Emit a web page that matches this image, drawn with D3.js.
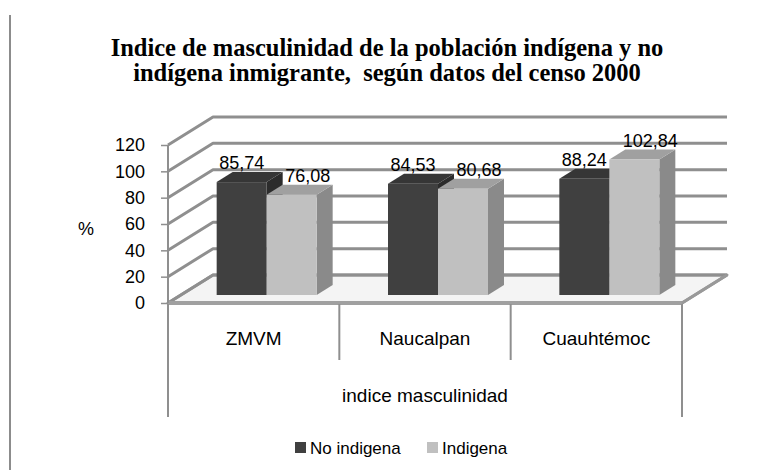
<!DOCTYPE html>
<html>
<head>
<meta charset="utf-8">
<script src="https://cdn.jsdelivr.net/npm/d3@7"></script>
<style>
  html, body { margin: 0; padding: 0; background: #fff; }
  svg { display: block; }
</style>
</head>
<body>
<svg id="chart" width="778" height="470"></svg>
<script>
// ---- data ----
const categories = ["ZMVM", "Naucalpan", "Cuauhtémoc"];
const seriesNames = ["No indigena", "Indigena"];
const noIndigena = [85.74, 84.53, 88.24];
const indigena = [76.08, 80.68, 102.84];
const yTicks = [0, 20, 40, 60, 80, 100, 120];
const titleLines = ["Indice de masculinidad de la población indígena y no",
                    "indígena inmigrante,  según datos del censo 2000"];
const groupTitle = "indice masculinidad";
const yAxisTitle = "%";

// ---- layout ----
const svg = d3.select("#chart");
const sans = "'Liberation Sans', Arial, sans-serif";
const serif = "'Liberation Serif', 'Times New Roman', serif";

const plotLeft = 168, plotRight = 682, floorY = 303, topY = 145;
const depth = { dx: 45, dy: -28 };       // floor depth
const barShift = { dx: 13, dy: -8 };     // bar front plane offset
const barDepth = { dx: 16, dy: -10 };    // bar thickness
const barW = 50;

const x = d3.scaleBand().domain(categories).range([plotLeft, plotRight]);
const y = d3.scaleLinear().domain([0, 120]).range([floorY, topY]);
const sub = d3.scaleBand().domain(seriesNames).range([0, barW * 2]);

const fmt = d3.formatLocale({ decimal: ",", thousands: ".", grouping: [3], currency: ["", ""] }).format(".2f");

const colors = {
  "No indigena": { front: "#404040", top: "#363636", side: "#2c2c2c" },
  "Indigena": { front: "#c0c0c0", top: "#a0a0a0", side: "#8a8a8a" }
};

// outer left border line
svg.append("line").attr("x1", 10).attr("x2", 10).attr("y1", 15).attr("y2", 470)
  .attr("stroke", "#8c8c8c").attr("stroke-width", 2);

// title
svg.append("text").attr("x", 387).attr("y", 56)
  .attr("text-anchor", "middle").attr("font-family", serif).attr("font-weight", "bold")
  .attr("font-size", 24.5).style("white-space", "pre")
  .selectAll("tspan").data(titleLines).join("tspan")
  .attr("x", 387).attr("dy", (d, i) => i === 0 ? 0 : 25).text(d => d);

// floor
const floorPts = [[plotLeft, floorY], [plotRight, floorY],
  [plotRight + depth.dx, floorY + depth.dy], [plotLeft + depth.dx, floorY + depth.dy]];
svg.append("polygon").attr("points", floorPts.map(p => p.join(",")).join(" "))
  .attr("fill", "#f4f4f4").attr("stroke", "#999").attr("stroke-width", 3)
  .attr("stroke-linejoin", "round");

// wall gridlines (left wall diagonal + back wall horizontal)
const grid = svg.append("g");
yTicks.forEach(v => {
  const yf = y(v);
  const pts = [[plotLeft, yf], [plotLeft + depth.dx, yf + depth.dy], [plotRight + depth.dx, yf + depth.dy]];
  grid.append("polyline").attr("points", pts.map(p => p.join(",")).join(" "))
    .attr("fill", "none").attr("stroke", "#8f8f8f").attr("stroke-width", 3)
    .attr("stroke-linejoin", "round");
});
// floor front edge again, on top
svg.append("line").attr("x1", plotLeft).attr("x2", plotRight).attr("y1", floorY).attr("y2", floorY)
  .attr("stroke", "#a0a0a0").attr("stroke-width", 4);
svg.append("line").attr("x1", plotRight).attr("x2", plotRight + depth.dx)
  .attr("y1", floorY).attr("y2", floorY + depth.dy)
  .attr("stroke", "#999").attr("stroke-width", 3);

// vertical axis line and ticks
svg.append("line").attr("x1", plotLeft).attr("x2", plotLeft).attr("y1", y(120)).attr("y2", floorY)
  .attr("stroke", "#8f8f8f").attr("stroke-width", 2);
const yAxis = d3.axisLeft(y).tickValues(yTicks).tickSize(7).tickPadding(16).tickFormat(d3.format("d"));
const yG = svg.append("g").attr("transform", `translate(${plotLeft},0)`).call(yAxis);
yG.select(".domain").remove();
yG.selectAll(".tick line").attr("stroke", "#8f8f8f").attr("stroke-width", 1.5);
yG.selectAll(".tick text").attr("font-family", sans).attr("font-size", 18).attr("fill", "#000");

svg.append("text").attr("x", 86).attr("y", 229).attr("dy", "0.35em")
  .attr("text-anchor", "middle").attr("font-family", sans).attr("font-size", 18).text(yAxisTitle);

// bars
const rows = categories.map((c, i) => ({ cat: c, vals: [noIndigena[i], indigena[i]] }));
const barsG = svg.append("g");
const base = floorY + barShift.dy;
rows.forEach(r => {
  const gx = x(r.cat) + (x.bandwidth() - barW * 2) / 2 + barShift.dx;
  seriesNames.forEach((s, k) => {
    const v = r.vals[k];
    const x0 = gx + sub(s), x1 = x0 + barW;
    const yt = y(v) + barShift.dy;
    const c = colors[s];
    const g = barsG.append("g");
    g.append("polygon").attr("points",
      [[x1, yt], [x1 + barDepth.dx, yt + barDepth.dy], [x1 + barDepth.dx, base + barDepth.dy], [x1, base]]
        .map(p => p.join(",")).join(" ")).attr("fill", c.side);
    g.append("polygon").attr("points",
      [[x0, yt], [x1, yt], [x1 + barDepth.dx, yt + barDepth.dy], [x0 + barDepth.dx, yt + barDepth.dy]]
        .map(p => p.join(",")).join(" ")).attr("fill", c.top);
    g.append("rect").attr("x", x0).attr("y", yt).attr("width", barW).attr("height", base - yt)
      .attr("fill", c.front);
  });
});

// data labels
rows.forEach(r => {
  const gx = x(r.cat) + (x.bandwidth() - barW * 2) / 2 + barShift.dx;
  seriesNames.forEach((s, k) => {
    const v = r.vals[k];
    const cx = gx + sub(s) + barW / 2 + (k === 1 ? barDepth.dx : 0);
    svg.append("text").attr("x", cx).attr("y", y(v) + barShift.dy - 19).attr("dy", "0.35em")
      .attr("text-anchor", "middle").attr("font-family", sans).attr("font-size", 18)
      .attr("fill", "#000").text(fmt(v));
  });
});

// category axis (two levels)
const catG = svg.append("g");
const bounds = [plotLeft, ...categories.slice(1).map(c => x(c)), plotRight];
bounds.forEach((bx, i) => {
  const outer = i === 0 || i === bounds.length - 1;
  catG.append("line").attr("x1", bx).attr("x2", bx).attr("y1", floorY + 1).attr("y2", outer ? 417 : 360)
    .attr("stroke", "#8f8f8f").attr("stroke-width", 2);
});
categories.forEach(c => {
  catG.append("text").attr("x", x(c) + x.bandwidth() / 2).attr("y", 338).attr("dy", "0.35em")
    .attr("text-anchor", "middle").attr("font-family", sans).attr("font-size", 19).text(c);
});
catG.append("text").attr("x", (plotLeft + plotRight) / 2).attr("y", 395).attr("dy", "0.35em")
  .attr("text-anchor", "middle").attr("font-family", sans).attr("font-size", 19).text(groupTitle);

// legend
const legX = [295, 427];
const leg = svg.append("g");
seriesNames.forEach((s, k) => {
  leg.append("rect").attr("x", legX[k]).attr("y", 442).attr("width", 11).attr("height", 11)
    .attr("fill", colors[s].front);
  leg.append("text").attr("x", legX[k] + 15).attr("y", 448).attr("dy", "0.35em")
    .attr("font-family", sans).attr("font-size", 17).text(s);
});
</script>
</body>
</html>
